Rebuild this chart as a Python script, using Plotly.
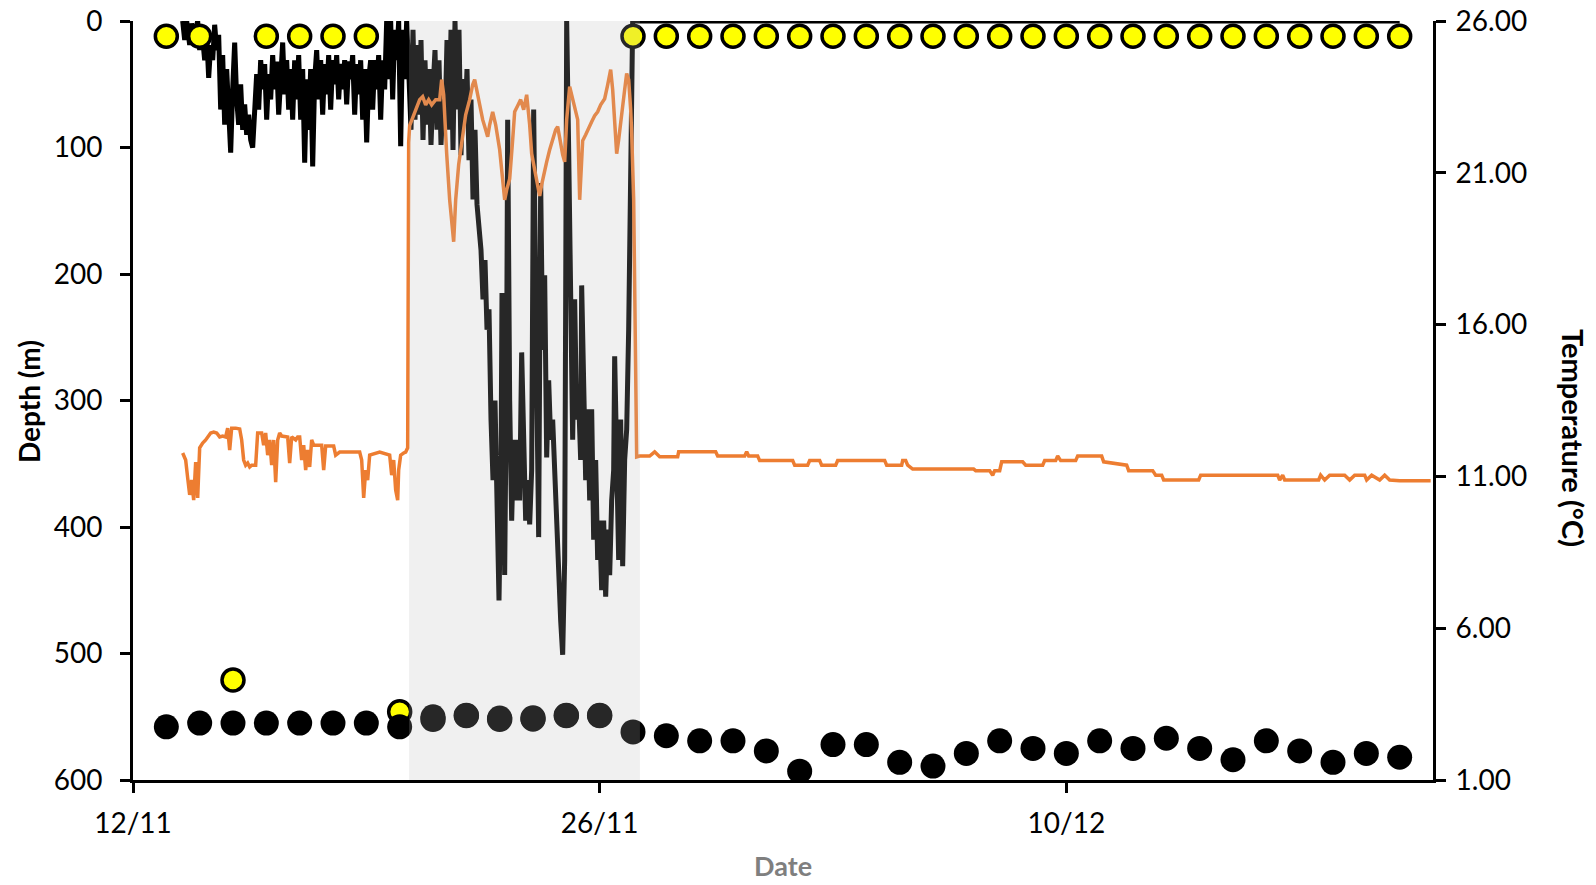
import pandas as pd
import plotly.graph_objects as go

START = pd.Timestamp("2012-11-12")

# ---- daily summary points (13/11 - 20/12) ----
day_dates = pd.date_range("2012-11-13", "2012-12-20", freq="D")
min_depth = [12, 12, 521, 12, 12, 12, 12, 546, 552, 549, 552, 551, 549, 549,
             12, 12, 12, 12, 12, 12, 12, 12, 12, 12, 12, 12,
             12, 12, 12, 12, 12, 12, 12, 12, 12, 12, 12, 12]
max_depth = [558, 555, 555, 555, 555, 555, 555, 558, 550, 549, 551, 552, 549, 549,
             562, 565, 569, 569, 577, 593, 572, 572, 586, 589, 579, 569, 575, 579,
             569, 575, 567, 575, 584, 569, 577, 586, 579, 582]

# ---- depth record (days since 12/11, metres) ----
depth_day_pre = [1.49, 1.55, 1.61, 1.70, 1.76, 1.85, 1.94, 2.00, 2.06, 2.15, 2.21, 2.27,
                 2.33, 2.39, 2.45, 2.51, 2.57, 2.63, 2.69, 2.75, 2.81, 2.87, 2.93, 2.99,
                 3.05, 3.11, 3.17, 3.23, 3.29, 3.35, 3.41, 3.47, 3.53, 3.59, 3.65, 3.71,
                 3.77, 3.83, 3.89, 3.95, 4.01, 4.07, 4.13, 4.19, 4.25, 4.31, 4.37, 4.43,
                 4.49, 4.55, 4.61, 4.67, 4.73, 4.79, 4.85, 4.91, 4.97, 5.03, 5.09, 5.15,
                 5.21, 5.27, 5.33, 5.39, 5.45, 5.51, 5.57, 5.63, 5.69, 5.75, 5.81, 5.87,
                 5.93, 5.99, 6.05, 6.11, 6.17, 6.23, 6.29, 6.35, 6.41, 6.47, 6.53, 6.59,
                 6.65, 6.71, 6.77, 6.83, 6.89, 6.95, 7.01, 7.07, 7.13, 7.19, 7.25, 7.31,
                 7.37, 7.43, 7.49, 7.55, 7.61, 7.67, 7.73, 7.79, 7.85, 7.91, 7.97, 8.03,
                 8.09, 8.15, 8.21, 8.27]
depth_pre = [0, 15, 0, 19, 2, 11, 0, 23, 5, 31, 11, 45,
             19, 31, 3, 23, 11, 70, 27, 82, 38, 76, 104, 54,
             17, 62, 82, 50, 86, 66, 90, 74, 94, 100, 58, 42,
             70, 31, 54, 34, 78, 42, 62, 27, 54, 32, 74, 38,
             17, 58, 31, 70, 38, 78, 31, 62, 27, 78, 38, 112,
             46, 86, 38, 115, 46, 23, 62, 31, 74, 34, 58, 27,
             70, 31, 50, 27, 62, 34, 54, 31, 66, 32, 46, 27,
             74, 34, 58, 31, 78, 38, 96, 46, 31, 70, 31, 54,
             27, 78, 31, 54, 0, 46, 0, 62, 7, 31, 0, 99,
             7, 46, 0, 38]

depth_day_dive = [8.34, 8.40, 8.46, 8.52, 8.58, 8.64, 8.70, 8.76, 8.82, 8.88, 8.94, 9.00,
                  9.06, 9.12, 9.18, 9.24, 9.30, 9.36, 9.42, 9.48, 9.54, 9.60, 9.66, 9.72,
                  9.78, 9.84, 9.90, 9.96, 10.02, 10.08, 10.14, 10.20, 10.26, 10.32, 10.38, 10.44,
                  10.50, 10.56, 10.62, 10.68, 10.74, 10.80, 10.86, 10.92, 10.98, 11.04, 11.07, 11.12,
                  11.15, 11.21, 11.24, 11.30, 11.36, 11.42, 11.48, 11.54, 11.60, 11.66, 11.72, 11.78,
                  11.84, 11.90, 11.96, 12.02, 12.08, 12.11, 12.17, 12.23, 12.29, 12.35, 12.41, 12.47,
                  12.53, 12.59, 12.65, 12.71, 12.77, 12.83, 12.89, 12.95, 12.98, 13.01, 13.07, 13.13,
                  13.19, 13.25, 13.31, 13.37, 13.43, 13.46, 13.52, 13.58, 13.64, 13.70, 13.76, 13.82,
                  13.88, 13.94, 14.00, 14.06, 14.12, 14.18, 14.24, 14.30, 14.36, 14.42, 14.45, 14.51,
                  14.57, 14.63, 14.69, 14.75, 14.81, 14.87, 14.90, 14.93, 14.96, 14.99]
depth_dive = [86, 7, 78, 19, 74, 15, 94, 31, 82, 38, 98, 54,
              23, 86, 31, 98, 62, 82, 15, 86, 7, 102, 0, 70,
              7, 106, 46, 82, 38, 110, 62, 141, 86, 145, 161, 181,
              220, 189, 244, 228, 315, 363, 300, 410, 458, 355, 215, 355,
              438, 260, 78, 300, 395, 331, 379, 331, 379, 262, 355, 395,
              363, 398, 355, 70, 220, 300, 408, 128, 260, 201, 345, 284,
              331, 315, 355, 414, 442, 474, 501, 426, 220, 0, 102, 220,
              331, 220, 315, 300, 347, 209, 315, 363, 307, 379, 307, 410,
              347, 426, 395, 450, 395, 455, 402, 438, 379, 355, 265, 363,
              426, 315, 431, 347, 323, 244, 181, 62, 15, 0]

depth_day_surface = [38.00]
depth_surface = [0]

# ---- temperature record (days since 12/11, degC) ----
temp_day = [1.49, 1.58, 1.64, 1.70, 1.76, 1.82, 1.88, 1.94, 2.00, 2.09, 2.18, 2.24,
            2.33, 2.42, 2.51, 2.60, 2.69, 2.78, 2.84, 2.90, 2.96, 3.08, 3.20, 3.26,
            3.32, 3.38, 3.44, 3.50, 3.56, 3.68, 3.74, 3.86, 3.92, 3.98, 4.04, 4.10,
            4.16, 4.22, 4.28, 4.34, 4.40, 4.46, 4.58, 4.64, 4.70, 4.76, 4.88, 4.94,
            5.00, 5.06, 5.12, 5.18, 5.24, 5.30, 5.36, 5.42, 5.54, 5.66, 5.72, 5.78,
            5.90, 6.02, 6.08, 6.20, 6.80, 6.86, 6.92, 6.98, 7.04, 7.10, 7.40, 7.70,
            7.76, 7.82, 7.88, 7.94, 7.97, 8.03, 8.12, 8.18, 8.24,
            8.27, 8.30, 8.39, 8.45, 8.54, 8.60, 8.69, 8.78, 8.87, 8.96, 9.08, 9.20,
            9.26, 9.32, 9.41, 9.50, 9.62, 9.68, 9.77, 9.89, 9.98, 10.10, 10.19, 10.25,
            10.34, 10.43, 10.49, 10.58, 10.64, 10.70, 10.79, 10.88, 10.94, 11.00, 11.09, 11.15,
            11.21, 11.30, 11.39, 11.45, 11.54, 11.63, 11.72, 11.81, 11.90, 11.96, 12.05, 12.14,
            12.20, 12.26, 12.32, 12.41, 12.50, 12.59, 12.68, 12.74, 12.80, 12.89, 12.95, 13.01,
            13.10, 13.19, 13.28, 13.34, 13.40, 13.46, 13.49, 13.58, 13.67, 13.76, 13.85, 13.94,
            14.03, 14.15, 14.24, 14.33, 14.39, 14.45, 14.51, 14.57, 14.66, 14.75, 14.81, 14.87,
            14.93, 14.96, 15.02, 15.08, 15.11,
            15.20, 15.50, 15.65, 15.80, 16.34, 16.37, 17.48, 17.54, 18.35, 18.41, 18.47, 18.74,
            18.80, 19.79, 19.85, 20.24, 20.30, 20.60, 20.66, 21.08, 21.14, 22.55, 22.61, 23.06,
            23.09, 23.18, 23.24, 23.39, 25.22, 25.28, 25.70, 25.79, 25.85, 26.00, 26.06, 26.69,
            26.78, 27.29, 27.35, 27.68, 27.74, 27.83, 28.28, 28.34, 29.06, 29.12, 29.81, 29.87,
            30.59, 30.68, 30.86, 30.92, 31.97, 32.03, 34.34, 34.40, 34.49, 34.55, 35.57, 35.63,
            35.75, 35.90, 36.35, 36.50, 36.65, 36.95, 37.01, 37.16, 37.40, 37.55, 37.70, 38.00,
            38.93]
temperature = [11.77, 11.54, 10.95, 10.39, 10.88, 10.22, 11.47, 10.29, 11.94, 12.10, 12.20, 12.30,
               12.43, 12.46, 12.43, 12.30, 12.33, 12.30, 12.59, 11.87, 12.59, 12.59, 12.56, 12.20,
               11.54, 11.37, 11.44, 11.31, 11.37, 11.37, 12.43, 12.43, 12.03, 12.43, 11.70, 12.20,
               11.37, 12.20, 10.81, 12.20, 12.43, 12.33, 12.30, 12.30, 11.44, 12.30, 12.20, 12.30,
               12.30, 11.54, 12.03, 11.21, 11.87, 11.31, 12.20, 12.03, 12.03, 12.03, 11.21, 12.00,
               12.00, 12.00, 11.70, 11.80, 11.80, 11.54, 10.29, 11.21, 10.88, 11.70, 11.80, 11.70,
               11.04, 11.54, 10.55, 10.22, 11.21, 11.70, 11.77, 11.80, 11.94,
               22.00, 22.55, 22.82, 22.95, 23.21, 23.41, 23.51, 23.24, 23.41, 23.24, 23.41, 23.41,
               24.07, 23.57, 21.63, 20.11, 18.73, 20.11, 21.27, 22.19, 22.91, 23.41, 23.90, 24.07,
               23.57, 23.08, 22.75, 22.42, 22.19, 22.58, 23.01, 22.58, 22.09, 21.76, 20.77, 20.11,
               20.44, 20.80, 22.09, 23.01, 23.21, 23.41, 23.08, 23.57, 22.58, 21.63, 21.10, 20.61,
               20.24, 20.61, 20.94, 21.36, 21.76, 22.09, 22.42, 22.52, 22.09, 21.60, 21.36, 22.75,
               23.84, 23.41, 22.91, 22.75, 20.11, 21.43, 22.06, 22.25, 22.49, 22.68, 22.88, 23.01,
               23.24, 23.44, 23.90, 24.40, 23.74, 22.75, 21.63, 22.09, 23.01, 23.74, 24.27, 24.07,
               23.08, 22.32, 20.11, 15.17, 11.64,
               11.67, 11.67, 11.81, 11.65, 11.65, 11.81, 11.81, 11.67, 11.67, 11.81, 11.67, 11.67,
               11.52, 11.52, 11.37, 11.37, 11.52, 11.52, 11.37, 11.37, 11.52, 11.52, 11.37, 11.37,
               11.52, 11.52, 11.37, 11.24, 11.24, 11.19, 11.19, 11.04, 11.19, 11.19, 11.48, 11.48,
               11.37, 11.37, 11.52, 11.52, 11.67, 11.52, 11.52, 11.67, 11.67, 11.48, 11.37, 11.19,
               11.19, 11.04, 11.04, 10.88, 10.88, 11.04, 11.04, 10.88, 11.04, 10.88, 10.88, 11.04,
               10.88, 11.04, 11.04, 10.88, 11.04, 11.04, 10.88, 11.04, 10.88, 11.04, 10.88, 10.86,
               10.86]

# shaded period
shade_start = "2012-11-20 06:45"
shade_end = "2012-11-27 05:00"

x_ticks = ["2012-11-12", "2012-11-26", "2012-12-10"]
depth_ticks = [0, 100, 200, 300, 400, 500, 600]
temp_ticks = [1, 6, 11, 16, 21, 26]


def to_time(days):
    return START + pd.to_timedelta(days, unit="D")


depth_days = depth_day_pre + depth_day_dive + depth_day_surface
depth_vals = depth_pre + depth_dive + depth_surface

FONT = "Lato"

fig = go.Figure()

fig.add_trace(go.Scatter(
    x=to_time(depth_days), y=depth_vals, mode="lines",
    line=dict(color="#000000", width=5), yaxis="y", showlegend=False,
))
fig.add_trace(go.Scatter(
    x=day_dates, y=min_depth, mode="markers",
    marker=dict(color="#ffff00", size=22, line=dict(color="#000000", width=3.5)),
    yaxis="y", showlegend=False,
))
fig.add_trace(go.Scatter(
    x=day_dates, y=max_depth, mode="markers",
    marker=dict(color="#000000", size=25, line=dict(width=0)),
    yaxis="y", showlegend=False,
))
fig.add_trace(go.Scatter(
    x=to_time(temp_day), y=temperature, mode="lines",
    line=dict(color="#ed7d31", width=3.5), yaxis="y2", showlegend=False,
))

fig.add_shape(type="rect", xref="x", yref="paper", x0=shade_start, x1=shade_end,
              y0=0, y1=1, fillcolor="rgba(183,183,183,0.21)", line=dict(width=0),
              layer="above")

axis_common = dict(showgrid=False, zeroline=False, showline=True, linecolor="#000000",
                   linewidth=3, ticks="outside", ticklen=10, tickwidth=3, tickcolor="#000000",
                   automargin=False,
                   tickfont=dict(family=FONT, size=28, color="#000000"))

fig.update_layout(
    width=1596, height=885,
    margin=dict(l=133, r=163, t=21, b=105, autoexpand=False),
    paper_bgcolor="#ffffff", plot_bgcolor="#ffffff",
    xaxis=dict(type="date", range=["2012-11-12", "2012-12-21"],
               tickvals=x_ticks, tickformat="%d/%m", ticklabelstandoff=6, **axis_common),
    yaxis=dict(range=[600, 0], tickvals=depth_ticks, ticklabelstandoff=12, **axis_common),
    yaxis2=dict(range=[1, 26], tickvals=temp_ticks, tickformat=".2f", overlaying="y",
                side="right", ticklabelstandoff=4, **axis_common),
)

fig.add_annotation(text="<b>Depth (m)</b>", xref="paper", yref="paper", x=-0.08, y=0.498,
                   textangle=-90, showarrow=False, xanchor="center", yanchor="middle",
                   font=dict(family=FONT, size=28, color="#000000"))
fig.add_annotation(text="<b>Temperature (°C)</b>", xref="paper", yref="paper", x=1.108, y=0.45,
                   textangle=90, showarrow=False, xanchor="center", yanchor="middle",
                   font=dict(family=FONT, size=29, color="#000000"))
fig.add_annotation(text="<b>Date</b>", xref="paper", yref="paper", x=0.4998, y=-0.113,
                   showarrow=False, xanchor="center", yanchor="middle",
                   font=dict(family=FONT, size=27, color="#7f7f7f"))

fig.write_html("out.html")
